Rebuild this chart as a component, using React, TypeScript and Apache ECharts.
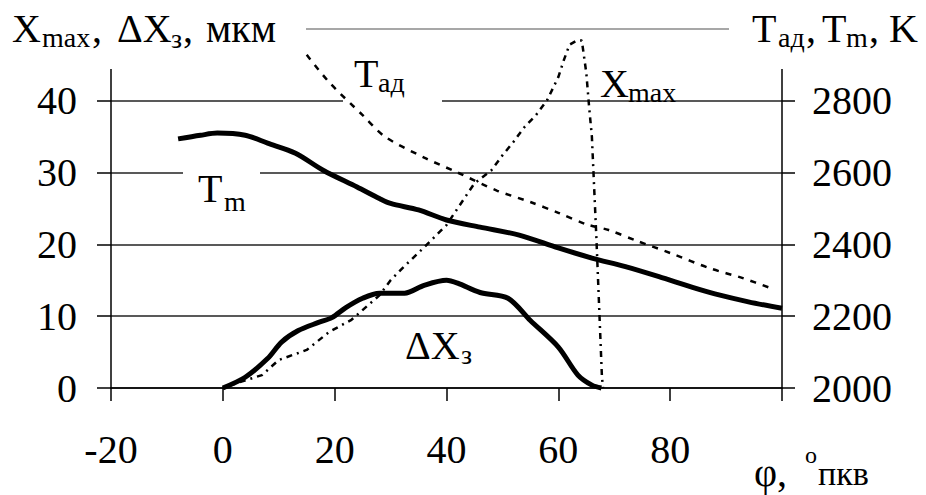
import React, { useEffect, useRef } from "react";
import * as echarts from "echarts";

const FONT = "'Liberation Serif', 'Times New Roman', Times, serif";

// x axis (φ, °пкв)
const xMin = -20;
const xMax = 100;
const xStep = 20;

// left axis (мкм)
const yLeftMin = 0;
const yLeftMax = 50;
const yLeftStep = 10;

// right axis (K)
const yRightMin = 2000;
const yRightMax = 3000;
const yRightStep = 200;

// T_m, K
const tmX = [-8, -4, -1, 4, 8, 13, 18, 24, 28, 30, 35, 40, 46, 53, 60, 66, 72, 78, 84, 88, 94, 100];
const tmT = [2694, 2704, 2710, 2704, 2682, 2654, 2606, 2560, 2528, 2514, 2496, 2468, 2448, 2426, 2390, 2362, 2338, 2310, 2280, 2262, 2240, 2222];

// T_ад, K
const tadX = [15, 19, 25, 29, 36, 42, 49, 55, 60, 65, 69, 74, 80, 87, 93, 98];
const tadT = [2928, 2852, 2760, 2700, 2642, 2600, 2550, 2518, 2488, 2456, 2440, 2410, 2376, 2334, 2306, 2278];

// X_max, мкм
const xmaxX = [0, 3, 7, 10, 15, 19, 23, 28, 30, 32, 36, 40, 43, 45, 48, 50, 52, 54, 56, 58, 60, 61, 62, 63.3, 64.2, 65, 65.5, 66, 66.4, 66.8, 67.2, 67.8, 68];
const xmaxV = [0, 0.8, 1.8, 3.9, 5.3, 7.8, 9.5, 12.9, 15, 16.6, 19.6, 22.7, 26.2, 28.5, 30.3, 32.4, 34.3, 36.4, 38, 40.1, 43.3, 45.7, 47.8, 48.4, 48.4, 43.9, 39.2, 35, 28, 21, 13.2, 1.5, 0];

// ΔX_з, мкм
const dxX = [0, 4, 8, 10.5, 13.5, 17, 19.5, 22, 25, 28, 32.5, 36, 40, 42, 46, 51, 55, 60, 63.5, 66, 67.7];
const dxV = [0, 1.5, 4.1, 6.4, 8.0, 9.1, 9.8, 11.2, 12.5, 13.2, 13.2, 14.3, 15.0, 14.6, 13.3, 12.5, 9.4, 5.7, 1.8, 0.4, 0];

const pairs = (xs: number[], ys: number[]) => xs.map((x, i) => [x, ys[i]]);

// text placed by its baseline
function txt(text: string, x: number, baseline: number, size = 40) {
  return {
    type: "text",
    x,
    y: baseline - 0.8375 * size,
    z: 10,
    silent: true,
    style: {
      text,
      fontSize: size,
      fontFamily: FONT,
      fill: "#000",
      verticalAlign: "top",
      align: "left",
    },
  };
}
const SUB = 28;

function cover(x: number, y: number, w: number, h: number) {
  return { type: "rect", z: 1, silent: true, shape: { x, y, width: w, height: h }, style: { fill: "#fff" } };
}

export default function App() {
  const ref = useRef<HTMLDivElement>(null);
  useEffect(() => {
    const chart = echarts.init(ref.current!, null, { renderer: "svg" });
    const axisLine = { show: true, onZero: false, lineStyle: { color: "#000", width: 1.5 } };
    const lbl = { fontSize: 40, fontFamily: FONT, color: "#000" };
    chart.setOption({
      animation: false,
      backgroundColor: "#fff",
      textStyle: { fontFamily: FONT },
      grid: { left: 111, right: 144, top: 29, bottom: 107, containLabel: false },
      xAxis: {
        type: "value",
        min: xMin,
        max: xMax,
        interval: xStep,
        axisLine,
        axisTick: { show: true, inside: false, length: 13, lineStyle: { color: "#000", width: 1.5 } },
        axisLabel: { ...lbl, margin: 41, formatter: (v: number) => (v === 100 ? "" : String(v)) },
        splitLine: { show: false },
      },
      yAxis: [
        {
          type: "value",
          position: "left",
          min: yLeftMin,
          max: yLeftMax,
          interval: yLeftStep,
          axisLine,
          axisTick: { show: true, inside: false, length: 14, lineStyle: { color: "#000", width: 1.5 } },
          axisLabel: { ...lbl, margin: 34, formatter: (v: number) => (v === 50 ? "" : String(v)) },
          splitLine: {
            show: true,
            lineStyle: { color: ["#222", "#222", "#222", "#222", "#222", "#8a8a8a"], width: 1.5 },
          },
        },
        {
          type: "value",
          position: "right",
          min: yRightMin,
          max: yRightMax,
          interval: yRightStep,
          axisLine,
          axisTick: { show: true, inside: false, length: 13, lineStyle: { color: "#000", width: 1.5 } },
          axisLabel: { ...lbl, margin: 30, formatter: (v: number) => (v === 3000 ? "" : String(v)) },
          splitLine: { show: false },
        },
      ],
      series: [
        {
          name: "Tm",
          type: "line",
          yAxisIndex: 1,
          data: pairs(tmX, tmT),
          symbol: "none",
          smooth: 0.3,
          clip: false,
          lineStyle: { color: "#000", width: 5 },
        },
        {
          name: "Tад",
          type: "line",
          yAxisIndex: 1,
          data: pairs(tadX, tadT),
          symbol: "none",
          smooth: 0.3,
          clip: false,
          lineStyle: { color: "#000", width: 2.5, type: [6, 7] },
        },
        {
          name: "Xmax",
          type: "line",
          yAxisIndex: 0,
          data: pairs(xmaxX, xmaxV),
          symbol: "none",
          clip: false,
          lineStyle: { color: "#000", width: 2.5, type: [6, 5, 2, 5] },
        },
        {
          name: "ΔXз",
          type: "line",
          yAxisIndex: 0,
          data: pairs(dxX, dxV),
          symbol: "none",
          smooth: 0.3,
          clip: false,
          lineStyle: { color: "#000", width: 5 },
        },
      ],
      graphic: [
        cover(0, 0, 306, 69),
        cover(729, 0, 197, 69),
        cover(343, 93, 99, 14),
        cover(183, 165, 77, 14),
        // left title: X_max, ΔX_з, мкм
        txt("X", 12, 42),
        txt("max", 42, 47, SUB),
        txt(",", 92, 42),
        txt("ΔX", 117, 42),
        txt("з", 171, 48, SUB),
        txt(",", 183, 42),
        txt("мкм", 206, 42),
        // right title: T_ад, T_m, K
        txt("T", 752, 42),
        txt("ад", 778, 47, SUB),
        txt(",", 806, 42),
        txt("T", 822, 42),
        txt("m", 846, 47, SUB),
        txt(",", 869, 42),
        txt("K", 889, 42),
        // in-plot labels
        txt("T", 354, 87),
        txt("ад", 378, 92, SUB),
        txt("X", 600, 97),
        txt("max", 628, 102, SUB),
        txt("T", 198, 202),
        txt("m", 224, 211, SUB),
        txt("ΔX", 405, 359),
        txt("з", 461, 364, SUB),
        // x axis name: φ, °пкв
        txt("φ,", 754, 486, 40),
        txt("o", 805, 463, 24),
        txt("пкв", 818, 485, 34),
      ],
    });
    return () => chart.dispose();
  }, []);
  return <div ref={ref} style={{ position: "fixed", left: 0, top: 0, width: 926, height: 495 }} />;
}
